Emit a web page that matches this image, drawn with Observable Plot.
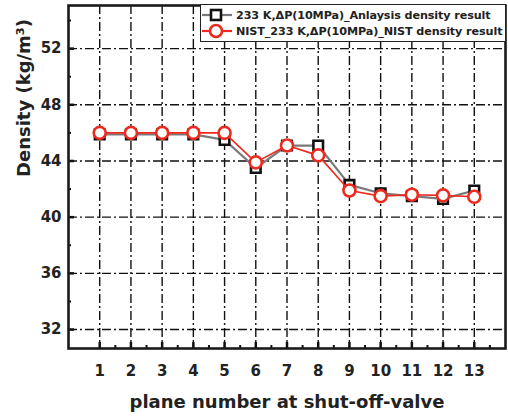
<!DOCTYPE html>
<html><head><meta charset="utf-8">
<script src="https://cdn.jsdelivr.net/npm/d3@7"></script>
<script src="https://cdn.jsdelivr.net/npm/@observablehq/plot@0.6"></script>
<style>
body{margin:0;background:#fff;}
#wrap{position:relative;width:508px;height:418px;font-family:"DejaVu Sans",Verdana,sans-serif;}
#legend{position:absolute;left:200px;top:4px;width:304px;height:36px;border:1.5px solid #222;background:#fff;font-weight:bold;font-size:11.2px;color:#222;}
.row{position:absolute;left:0;height:16px;display:flex;align-items:center;white-space:nowrap;}
.row svg{flex:none;}
.row span{margin-left:3px;letter-spacing:-0.1px;}
</style></head>
<body><div id="wrap"></div>
<script>
const planes = [1,2,3,4,5,6,7,8,9,10,11,12,13];
const analysis = [45.9,45.9,45.9,45.9,45.5,43.5,45.1,45.1,42.3,41.7,41.5,41.3,41.9];
const nist = [46.0,46.0,46.0,46.0,46.0,43.9,45.1,44.4,41.9,41.5,41.6,41.55,41.45];
const yTicks = [32,36,40,44,48,52];
const yMinor = [34,38,42,46,50,54];
const xMinor = [1.5,2.5,3.5,4.5,5.5,6.5,7.5,8.5,9.5,10.5,11.5,12.5,13.5];
const seriesNames = ["233 K,ΔP(10MPa)_Anlaysis density result","NIST_233 K,ΔP(10MPa)_NIST density result"];
const xLabel = "plane number at shut-off-valve";
const yLabel = "Density (kg/m³)";

const A = planes.map((p,i)=>({x:p,y:analysis[i]}));
const N = planes.map((p,i)=>({x:p,y:nist[i]}));
const dash = "9,3,2,3";
const fh = 343;

const chart = Plot.plot({
  width:508, height:418,
  marginLeft:68, marginRight:3, marginTop:5, marginBottom:70,
  style:{fontFamily:"'DejaVu Sans',Verdana,sans-serif", fontWeight:"bold", color:"#222", background:"#fff"},
  x:{domain:[0,14], ticks:planes, tickSize:0, tickPadding:16, tickFormat:d=>d, label:null},
  y:{domain:[30.65,55.07], ticks:yTicks, tickSize:0, tickPadding:7, label:null},
  marks:[
    Plot.ruleX(planes,{stroke:"#111",strokeWidth:1.4,strokeDasharray:dash}),
    Plot.ruleY(yTicks,{stroke:"#111",strokeWidth:1.4,strokeDasharray:dash}),
    Plot.tickX(planes,{x:d=>d,stroke:"#111",strokeWidth:2.5,insetTop:fh-6}),
    Plot.tickX(xMinor,{x:d=>d,stroke:"#111",strokeWidth:2,insetTop:fh-3}),
    Plot.tickY(yTicks,{y:d=>d,stroke:"#111",strokeWidth:2.5,insetRight:437-6}),
    Plot.tickY(yMinor,{y:d=>d,stroke:"#111",strokeWidth:2,insetRight:437-3}),
    Plot.line(A,{x:"x",y:"y",stroke:"#7a7a7a",strokeWidth:2.2}),
    Plot.dot(A,{x:"x",y:"y",symbol:"square",r:5.4,stroke:"#111",strokeWidth:2.6,fill:"#fff"}),
    Plot.line(N,{x:"x",y:"y",stroke:"#ee2a1f",strokeWidth:1.6}),
    Plot.dot(N,{x:"x",y:"y",symbol:"circle",r:6,stroke:"#ee2a1f",strokeWidth:2.6,fill:"#fff"}),
    Plot.frame({stroke:"#1a1a1a",strokeWidth:2.6}),
    Plot.axisX(planes,{tickSize:0,tickPadding:17,fontSize:15,fontWeight:"bold",label:null}),
    Plot.axisY(yTicks,{tickSize:0,tickPadding:7,fontSize:15,fontWeight:"bold",label:null}),
    Plot.text([xLabel],{frameAnchor:"bottom",dy:59,fontSize:18,fontWeight:"bold",fill:"#222"}),
    Plot.text([yLabel],{frameAnchor:"left",dx:-44,rotate:-90,fontSize:18,fontWeight:"bold",fill:"#222"})
  ]
});
const wrap = document.getElementById("wrap");
wrap.appendChild(chart);

const legend = document.createElement("div");
legend.id = "legend";
const styles = [
  {line:"#7a7a7a", sym:"square", stroke:"#111"},
  {line:"#ee2a1f", sym:"circle", stroke:"#ee2a1f"}
];
seriesNames.forEach((name,i)=>{
  const row = document.createElement("div");
  row.className = "row";
  row.style.top = (2+i*16)+"px";
  const s = styles[i];
  const marker = s.sym==="square"
    ? `<rect x="10" y="3" width="10" height="10" fill="#fff" stroke="${s.stroke}" stroke-width="2.6"/>`
    : `<circle cx="15" cy="8" r="6" fill="#fff" stroke="${s.stroke}" stroke-width="2.6"/>`;
  row.innerHTML = `<svg width="32" height="16"><line x1="1" y1="8" x2="31" y2="8" stroke="${s.line}" stroke-width="2.2"/>${marker}</svg><span>${name}</span>`;
  legend.appendChild(row);
});
wrap.appendChild(legend);
</script>
</body></html>
